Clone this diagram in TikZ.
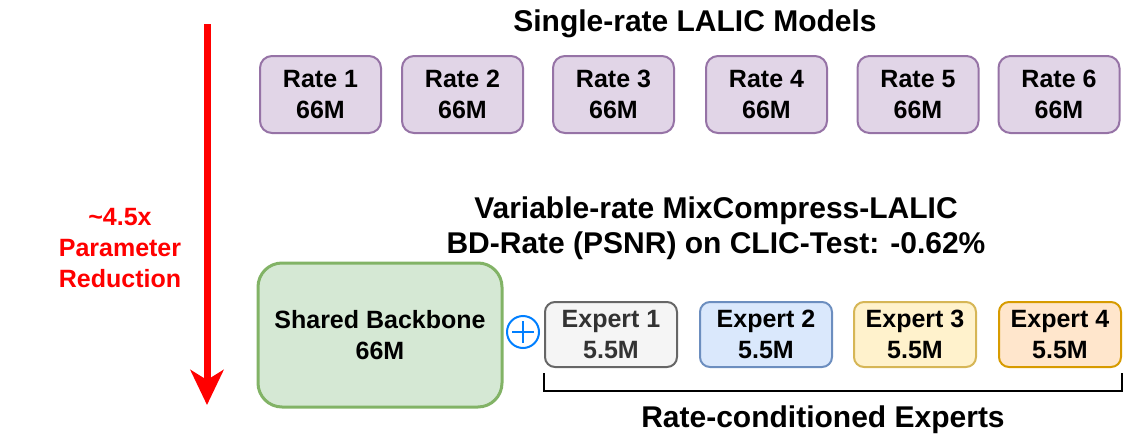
\documentclass[tikz,border=0pt]{standalone}
\usepackage{fontspec}
\setmainfont{Liberation Sans}
\usetikzlibrary{arrows.meta}
\definecolor{purplefill}{HTML}{E1D5E7}
\definecolor{purpleline}{HTML}{9673A6}
\definecolor{greenfill}{HTML}{D5E8D4}
\definecolor{greenline}{HTML}{82B366}
\definecolor{grayfill}{HTML}{F5F5F5}
\definecolor{grayline}{HTML}{666666}
\definecolor{graytext}{HTML}{333333}
\definecolor{bluefill}{HTML}{DAE8FC}
\definecolor{blueline}{HTML}{6C8EBF}
\definecolor{yellowfill}{HTML}{FFF2CC}
\definecolor{yellowline}{HTML}{D6B656}
\definecolor{orangefill}{HTML}{FFE6CC}
\definecolor{orangeline}{HTML}{D79B00}
\definecolor{plusblue}{HTML}{007FFF}
\definecolor{arrowred}{HTML}{FF0000}
\newcommand{\boxfont}{\fontsize{25}{31}\selectfont\bfseries}
\newcommand{\titlefont}{\fontsize{30}{35}\selectfont\bfseries}
\tikzset{
    box/.style={rectangle, rounded corners=12pt, line width=2pt, align=center, inner sep=0pt, font=\boxfont},
    ratebox/.style={box, fill=purplefill, draw=purpleline, minimum width=121pt, minimum height=77pt},
    expertbox/.style={box, rounded corners=10pt, minimum height=65pt},
    title/.style={anchor=base, align=center, font=\titlefont},
}

\begin{document}
\begin{tikzpicture}[x=1pt, y=-1pt]
        \useasboundingbox (0,0) rectangle (1125,434);
        
        % single-rate models
        \node[title] (single) at (695,31) {Single-rate LALIC Models};
        \foreach \i/\x in {1/320.5, 2/462.5, 3/613.5, 4/766.5, 5/918, 6/1059}
            \node[ratebox] (rate\i) at (\x,94.5) {Rate \i\\66M};
        
        % reduction arrow (base = last line)
        \coordinate (arrowtop) at (207,24);
        \coordinate (arrowtip) at (207,405);
        \draw[arrowred, line width=7pt, -{Stealth[length=35pt, width=33pt, inset=10pt]}] (arrowtop) -- (arrowtip);
        \node[anchor=base, align=center, font=\boxfont, text=arrowred] (reduction) at (120,287) {\textasciitilde4.5x\\Parameter\\Reduction};
        
        % variable-rate model
        \node[title] (variable) at (716,253) {Variable-rate MixCompress-LALIC\\BD-Rate (PSNR) on CLIC-Test: -0.62\%};
        \node[box, rounded corners=24pt, line width=3pt, fill=greenfill, draw=greenline, minimum width=244pt, minimum height=144pt] (backbone) at (380,335) {Shared Backbone\\66M};
        
        \node[circle, draw=plusblue, line width=2pt, minimum size=32pt, inner sep=0pt] (plus) at (523,332) {};
        \draw[plusblue, line width=2pt, shorten <=6pt, shorten >=6pt] (plus.west) -- (plus.east);
        \draw[plusblue, line width=2pt, shorten <=6pt, shorten >=6pt] (plus.north) -- (plus.south);
        
        \node[expertbox, fill=grayfill, draw=grayline, text=graytext, minimum width=132pt] (expert1) at (611,334.5) {Expert 1\\5.5M};
        \node[expertbox, fill=bluefill, draw=blueline, minimum width=132pt] (expert2) at (766,334.5) {Expert 2\\5.5M};
        \node[expertbox, fill=yellowfill, draw=yellowline, minimum width=122pt] (expert3) at (915,334.5) {Expert 3\\5.5M};
        \node[expertbox, fill=orangefill, draw=orangeline, minimum width=122pt] (expert4) at (1060,334.5) {Expert 4\\5.5M};
        
        \draw[line width=2.5pt] ([yshift=-5pt]expert1.south west) -- ++(0,18) -| ([yshift=-5pt]expert4.south east);
        \node[title] (experts) at (823,427) {Rate-conditioned Experts};
    
\end{tikzpicture}
\end{document}
